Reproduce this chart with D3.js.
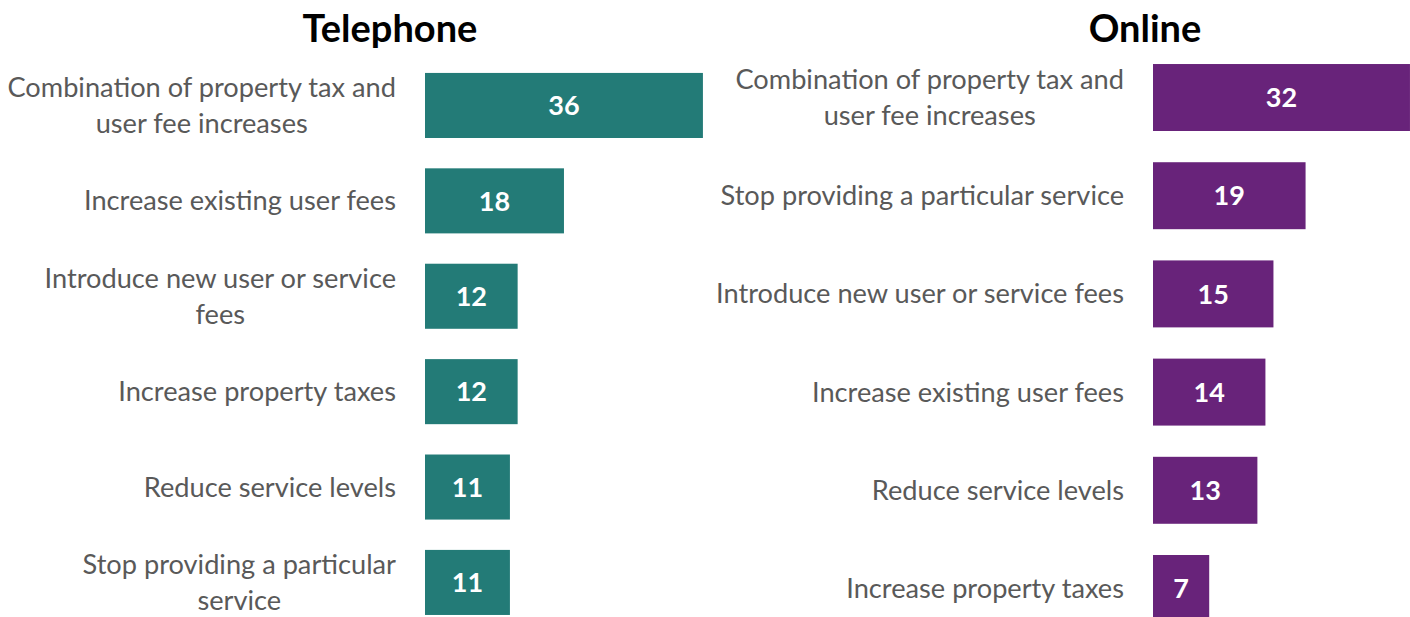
<!DOCTYPE html>
<html>
<head>
<meta charset="utf-8">
<script src="https://cdn.jsdelivr.net/npm/d3@7"></script>
<style>
  body { margin: 0; background: #fff; }
  svg { display: block; font-family: Lato, "Open Sans", sans-serif; }
</style>
</head>
<body>
<script>
const width = 1410;
const height = 617;
const labelSize = 27.2;

// data
const phoneCategories = [
  'Combination of property tax and user fee increases',
  'Increase existing user fees',
  'Introduce new user or service fees',
  'Increase property taxes',
  'Reduce service levels',
  'Stop providing a particular service'
];
const phoneValues = [36, 18, 12, 12, 11, 11];

const onlineCategories = [
  'Combination of property tax and user fee increases',
  'Stop providing a particular service',
  'Introduce new user or service fees',
  'Increase existing user fees',
  'Reduce service levels',
  'Increase property taxes'
];
const onlineValues = [32, 19, 15, 14, 13, 7];

const panels = [
  {title: 'Telephone', cats: phoneCategories, vals: phoneValues, color: '#237b77',
   titleX: 390, x0: 425, perUnit: 7.72, y0: 42.6, y1: 645.3, labelRight: 396, wrapWidth: 395},
  {title: 'Online', cats: onlineCategories, vals: onlineValues, color: '#68237a',
   titleX: 1145, x0: 1153, perUnit: 8.03, y0: 32.8, y1: 653.2, labelRight: 1124, wrapWidth: 425}
];

const svg = d3.select('body').append('svg')
  .attr('width', width).attr('height', height);

// wraps a label to the given pixel width, returns lines
function wrapLines(text, maxW, measure) {
  const words = text.split(' ');
  const lines = [];
  let line = '';
  words.forEach(w => {
    const test = line ? line + ' ' + w : w;
    measure.text(test);
    if (line && measure.node().getComputedTextLength() > maxW) {
      lines.push(line);
      line = w;
    } else {
      line = test;
    }
  });
  lines.push(line);
  return lines;
}

const measure = svg.append('text').attr('font-size', labelSize).attr('visibility', 'hidden');

panels.forEach(p => {
  const data = p.cats.map((c, i) => ({name: c, value: p.vals[i]}));

  const y = d3.scaleBand()
    .domain(p.cats)
    .range([p.y0, p.y1])
    .padding(0.318);

  const x = d3.scaleLinear()
    .domain([0, 40])
    .range([p.x0, p.x0 + p.perUnit * 40]);

  const g = svg.append('g');

  g.append('text')
    .attr('x', p.titleX)
    .attr('y', 42)
    .attr('text-anchor', 'middle')
    .attr('font-size', 38)
    .attr('font-weight', 'bold')
    .attr('fill', '#000')
    .text(p.title);

  g.selectAll('rect').data(data).enter().append('rect')
    .attr('x', x(0))
    .attr('y', d => y(d.name))
    .attr('width', d => x(d.value) - x(0))
    .attr('height', y.bandwidth())
    .attr('fill', p.color);

  g.selectAll('.val').data(data).enter().append('text')
    .attr('class', 'val')
    .attr('x', d => (x(0) + x(d.value)) / 2)
    .attr('y', d => y(d.name) + y.bandwidth() / 2)
    .attr('dy', '0.36em')
    .attr('text-anchor', 'middle')
    .attr('font-size', 27)
    .attr('font-weight', 'bold')
    .attr('fill', '#fff')
    .text(d => d.value);

  g.selectAll('.cat').data(data).enter().append('text')
    .attr('class', 'cat')
    .attr('text-anchor', 'end')
    .attr('font-size', labelSize)
    .attr('fill', '#595959')
    .each(function(d) {
      const lines = wrapLines(d.name, p.wrapWidth, measure);
      const cy = y(d.name) + y.bandwidth() / 2;
      const lh = 36;
      const t = d3.select(this);
      lines.forEach((ln, i) => {
        t.append('tspan')
          .attr('x', p.labelRight)
          .attr('y', cy + (i - (lines.length - 1) / 2) * lh)
          .attr('dy', '0.35em')
          .text(ln);
      });
    });
});

// multi-line labels are centered on their block, like the original
svg.selectAll('.cat').each(function() {
  const spans = d3.select(this).selectAll('tspan');
  if (spans.size() < 2) return;
  const right = +spans.attr('x');
  let maxW = 0;
  spans.each(function() { maxW = Math.max(maxW, this.getComputedTextLength()); });
  spans.attr('text-anchor', 'middle').attr('x', right - maxW / 2);
});

measure.remove();
</script>
</body>
</html>
